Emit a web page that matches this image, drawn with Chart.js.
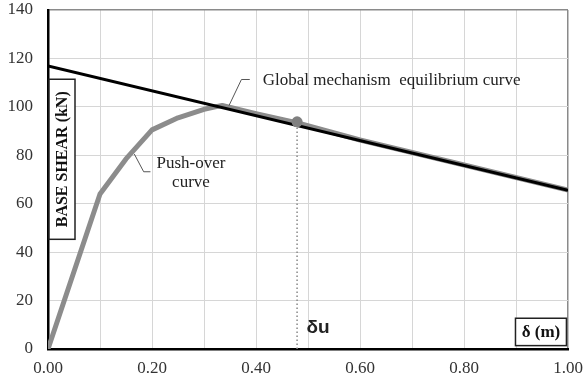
<!DOCTYPE html>
<html>
<head>
<meta charset="utf-8">
<script src="https://cdn.jsdelivr.net/npm/chart.js@4.4.1/dist/chart.umd.min.js"></script>
<style>
  html, body { margin: 0; padding: 0; background: #fff; }
  #wrap { width: 585px; height: 383px; }
</style>
</head>
<body>
<div id="wrap"><canvas id="chart"></canvas></div>
<script>
// Curva push-over (deslocamento em m, cortante em kN)
const pushX = [0, 0.10, 0.15, 0.20, 0.25, 0.30, 0.335, 0.40, 0.48, 0.60, 0.80, 1.00];
const pushY = [0, 64, 78.5, 90.5, 95.5, 99, 100.6, 97.2, 93.4, 86.3, 76, 65.6];

// Reta de equilíbrio do mecanismo global
const eqX = [0, 1.00];
const eqY = [116.9, 65.5];

// Deslocamento último
const deltaU = 0.479;
const shearU = 93.8;

// Eixos
const xTicks = [0, 0.2, 0.4, 0.6, 0.8, 1.0];
const xMax = 1;
const yMax = 140;

const toPoints = (xs, ys) => xs.map((x, i) => ({ x: x, y: ys[i] }));

const serif = '"Liberation Serif", "Times New Roman", serif';

// Textos e caixas desenhados sobre o gráfico
const annotations = {
    id: 'annotations',
    afterDraw(chart) {
        const ctx = chart.ctx;
        const x = chart.scales.x;
        const y = chart.scales.y;
        ctx.save();

        // chamada da curva de equilíbrio
        ctx.strokeStyle = '#555';
        ctx.lineWidth = 1;
        ctx.beginPath();
        ctx.moveTo(x.getPixelForValue(0.348), y.getPixelForValue(100.5));
        ctx.lineTo(x.getPixelForValue(0.372), y.getPixelForValue(111.3));
        ctx.lineTo(x.getPixelForValue(0.388), y.getPixelForValue(111.3));
        ctx.stroke();
        ctx.fillStyle = '#222';
        ctx.font = '17px ' + serif;
        ctx.textBaseline = 'middle';
        ctx.textAlign = 'left';
        ctx.fillText('Global mechanism  equilibrium curve', x.getPixelForValue(0.413), y.getPixelForValue(110.8));

        // chamada da curva push-over
        ctx.beginPath();
        ctx.moveTo(x.getPixelForValue(0.166), y.getPixelForValue(80.5));
        ctx.lineTo(x.getPixelForValue(0.184), y.getPixelForValue(73.2));
        ctx.lineTo(x.getPixelForValue(0.197), y.getPixelForValue(73.2));
        ctx.stroke();
        ctx.textAlign = 'center';
        ctx.fillText('Push-over', x.getPixelForValue(0.275), y.getPixelForValue(76.8));
        ctx.fillText('curve', x.getPixelForValue(0.275), y.getPixelForValue(68.6));

        // δu
        ctx.font = 'bold 19px "Liberation Sans", Arial, sans-serif';
        ctx.textAlign = 'left';
        ctx.fillText('\u03B4u', x.getPixelForValue(0.497), y.getPixelForValue(8.7));

        // caixa do título do eixo y
        const bx = x.getPixelForValue(0) + 1;
        const by = y.getPixelForValue(111.4);
        const bw = 26;
        const bh = y.getPixelForValue(45.3) - by;
        ctx.fillStyle = '#fff';
        ctx.fillRect(bx, by, bw, bh);
        ctx.strokeStyle = '#222';
        ctx.lineWidth = 1.5;
        ctx.strokeRect(bx, by, bw, bh);
        ctx.save();
        ctx.translate(bx + bw / 2 + 1, by + bh / 2);
        ctx.rotate(-Math.PI / 2);
        ctx.fillStyle = '#111';
        ctx.font = 'bold 16px ' + serif;
        ctx.textAlign = 'center';
        ctx.fillText('BASE SHEAR (kN)', 0, 0);
        ctx.restore();

        // caixa do título do eixo x
        const cx = x.getPixelForValue(0.899);
        const cy = y.getPixelForValue(12.7);
        const cw = x.getPixelForValue(0.997) - cx;
        const ch = y.getPixelForValue(1.4) - cy;
        ctx.fillStyle = '#fff';
        ctx.fillRect(cx, cy, cw, ch);
        ctx.strokeRect(cx, cy, cw, ch);
        ctx.fillStyle = '#111';
        ctx.font = 'bold 17px ' + serif;
        ctx.textAlign = 'center';
        ctx.fillText('\u03B4 (m)', cx + cw / 2, cy + ch / 2 + 1);

        ctx.restore();
    }
};

new Chart(document.getElementById('chart'), {
    type: 'scatter',
    data: {
        datasets: [
            {
                label: 'u',
                data: [{ x: deltaU, y: shearU }],
                pointRadius: 5.5,
                pointBackgroundColor: '#808080',
                pointBorderWidth: 0,
                order: 0
            },
            {
                label: 'equilibrium',
                data: toPoints(eqX, eqY),
                showLine: true,
                borderColor: '#000',
                borderWidth: 3,
                pointRadius: 0,
                order: 1
            },
            {
                label: 'push-over',
                data: toPoints(pushX, pushY),
                showLine: true,
                borderColor: '#8c8c8c',
                borderWidth: 5,
                borderJoinStyle: 'round',
                borderCapStyle: 'round',
                pointRadius: 0,
                order: 2
            },
            {
                label: 'du line',
                data: [{ x: deltaU, y: 0 }, { x: deltaU, y: shearU }],
                showLine: true,
                borderColor: '#888',
                borderWidth: 1.5,
                borderDash: [1.5, 2.5],
                pointRadius: 0,
                order: 3
            }
        ]
    },
    options: {
        responsive: true,
        maintainAspectRatio: false,
        animation: false,
        layout: { padding: { left: 0, right: 17, top: 10, bottom: 0 } },
        plugins: {
            legend: { display: false },
            tooltip: { enabled: false }
        },
        scales: {
            x: {
                type: 'linear',
                min: 0,
                max: xMax,
                afterBuildTicks: (axis) => {
                    axis.ticks = [];
                    for (let i = 0; i <= 10; i++) axis.ticks.push({ value: i / 10 });
                },
                afterFit: (s) => {
                    s.height = 34;
                    s.paddingLeft = 0;
                    s.paddingRight = 0;
                },
                ticks: {
                    padding: 9,
                    maxRotation: 0,
                    autoSkip: false,
                    color: '#333',
                    font: { family: serif, size: 17 },
                    callback: (v) => xTicks.some(t => Math.abs(t - v) < 1e-6) ? v.toFixed(2) : ''
                },
                grid: {
                    color: (c) => Math.abs(c.tick.value - xMax) < 1e-6 ? '#8a8a8a' : '#d6d6d6',
                    lineWidth: (c) => Math.abs(c.tick.value - xMax) < 1e-6 ? 1.5 : 1,
                    drawTicks: false
                },
                border: { color: '#000', width: 2.5 }
            },
            y: {
                min: 0,
                max: yMax,
                afterFit: (s) => {
                    s.width = 48;
                    s.paddingTop = 0;
                    s.paddingBottom = 0;
                },
                ticks: {
                    stepSize: 20,
                    padding: 15,
                    color: '#333',
                    font: { family: serif, size: 17 }
                },
                grid: {
                    color: (c) => c.tick.value === yMax ? '#8a8a8a' : '#d6d6d6',
                    lineWidth: (c) => c.tick.value === yMax ? 1.5 : 1,
                    drawTicks: false
                },
                border: { color: '#000', width: 2.5 }
            }
        }
    },
    plugins: [annotations]
});
</script>
</body>
</html>
